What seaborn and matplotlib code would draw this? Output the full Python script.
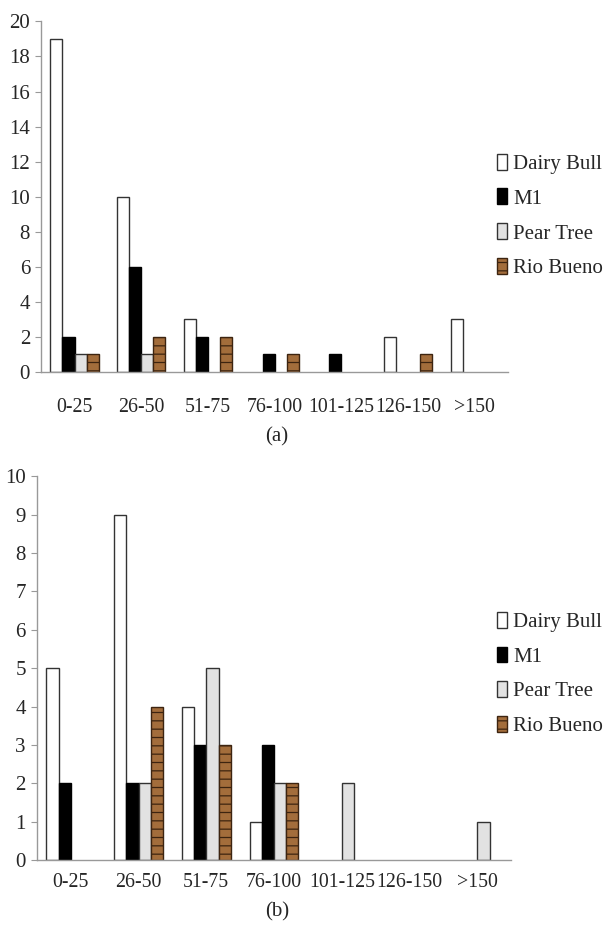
import numpy as np
import pandas as pd
import matplotlib
matplotlib.use('Agg')
import matplotlib.pyplot as plt
import seaborn as sns

# data
bins = ['0-25', '26-50', '51-75', '76-100', '101-125', '126-150', '>150']
sites = ['Dairy Bull', 'M1', 'Pear Tree', 'Rio Bueno']

a_dairy = [19, 10, 3, 0, 0, 2, 3]
a_m1 = [2, 6, 2, 1, 1, 0, 0]
a_pear = [1, 1, 0, 0, 0, 0, 0]
a_rio = [1, 2, 2, 1, 0, 1, 0]

b_dairy = [5, 9, 4, 1, 0, 0, 0]
b_m1 = [2, 2, 3, 3, 0, 0, 0]
b_pear = [0, 2, 5, 2, 2, 0, 1]
b_rio = [0, 4, 3, 2, 0, 0, 0]

colors = ['#ffffff', '#000000', '#e2e2e2', '#a36d3b']
edges = ['#333333', '#000000', '#333333', '#3d2410']
hatches = ['', '', '', '--']


def long_df(series):
    rows = []
    for site, vals in zip(sites, series):
        for b, v in zip(bins, vals):
            rows.append({'bin': b, 'site': site, 'count': v})
    return pd.DataFrame(rows)


sns.set_style('white')
plt.rcParams['font.family'] = ['Liberation Serif', 'DejaVu Serif']
plt.rcParams['hatch.linewidth'] = 0.9

fig = plt.figure(figsize=(6.05, 9.30), dpi=100)
ax1 = fig.add_axes([0.068, 0.600, 0.772, 0.377])
ax2 = fig.add_axes([0.061, 0.075, 0.784, 0.413])


def draw(ax, series, ymax, ystep, tag, lab_y, xpad, leg_y):
    df = long_df(series)
    sns.barplot(data=df, x='bin', y='count', hue='site', order=bins,
                hue_order=sites, palette=colors, width=0.72, ax=ax,
                linewidth=1.0, saturation=1, legend=False)
    for cont, ec, ht in zip(ax.containers, edges, hatches):
        for p in cont:
            p.set_edgecolor(ec)
            p.set_hatch(ht)
            if p.get_height() == 0:
                p.set_visible(False)
    ax.set_xlim(-0.5, len(bins) - 0.5)
    ax.set_ylim(0, ymax)
    ax.set_yticks(np.arange(0, ymax + 0.1, ystep))
    ax.set_xticks(range(len(bins)))
    ax.set_xticklabels(bins)
    ax.set_xticks(np.arange(-0.5, len(bins)), minor=True)
    ax.tick_params(axis='x', which='major', length=0, pad=xpad, labelsize=14.3)
    ax.tick_params(axis='x', which='minor', length=6, color='#999999', width=1)
    ax.tick_params(axis='y', length=4, color='#999999', labelsize=15, pad=4, left=True)
    ax.set_xlabel('')
    ax.set_ylabel('')
    for s in ['top', 'right']:
        ax.spines[s].set_visible(False)
    for s in ['left', 'bottom']:
        ax.spines[s].set_color('#999999')
        ax.spines[s].set_linewidth(1)
    fig.text(0.458, lab_y, tag, ha='center', va='center', fontsize=15)
    handles = []
    for c, ec, ht in zip(colors, edges, hatches):
        handles.append(plt.Rectangle((0, 0), 1, 1, facecolor=c, edgecolor=ec,
                                     linewidth=1, hatch=ht))
    ax.legend(handles, sites, loc='center left', bbox_to_anchor=(0.821, leg_y),
              bbox_transform=fig.transFigure, frameon=False, fontsize=15,
              handlelength=0.5, handleheight=0.8, handletextpad=0.3,
              labelspacing=0.7, borderaxespad=0, borderpad=0)


draw(ax1, [a_dairy, a_m1, a_pear, a_rio], 20, 2, '(a)', 1 - 437 / 930, 19, 1 - 216 / 930)
draw(ax2, [b_dairy, b_m1, b_pear, b_rio], 10, 1, '(b)', 1 - 912 / 930, 9, 1 - 674 / 930)

fig.savefig('out.png', dpi=100, facecolor='white')
